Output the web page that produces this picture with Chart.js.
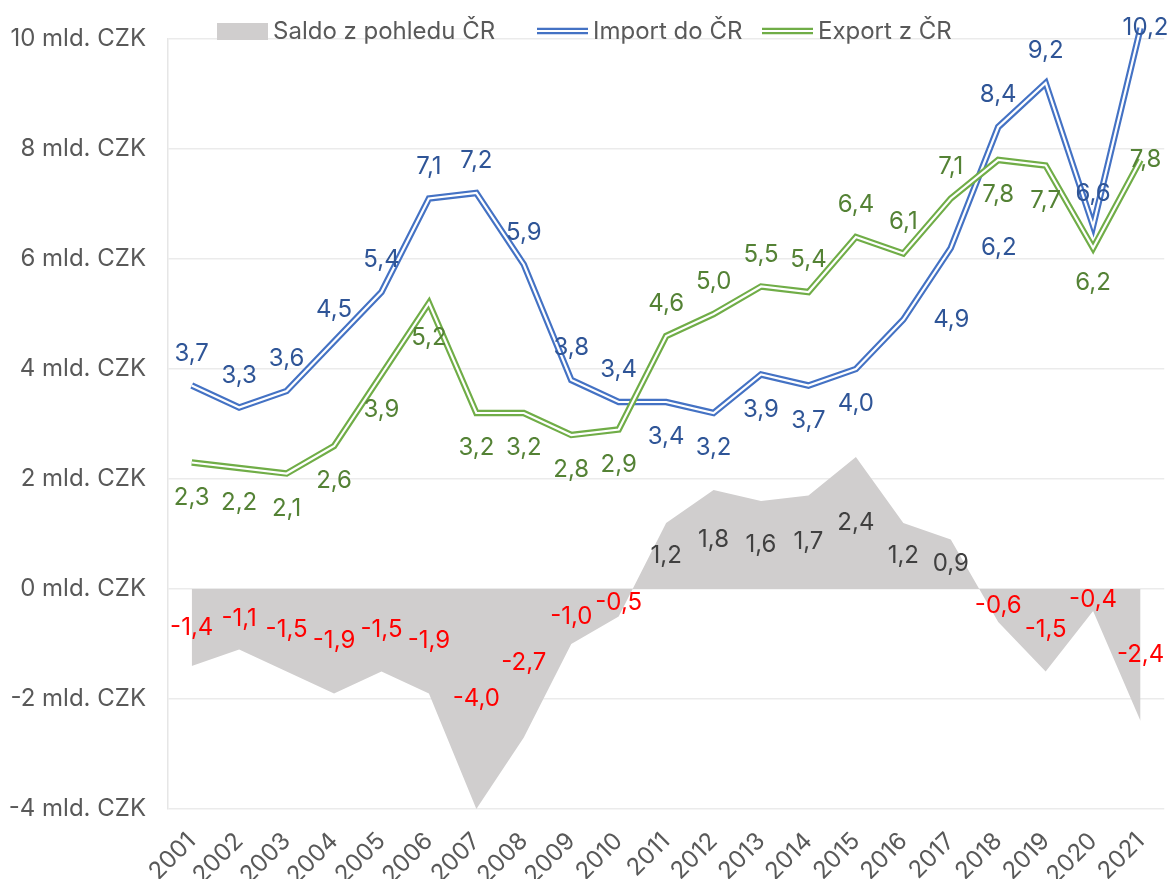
<!DOCTYPE html>
<html>
<head>
<meta charset="utf-8">
<script src="https://cdn.jsdelivr.net/npm/chart.js@4.4.1/dist/chart.umd.min.js"></script>
<style>
  html, body { margin: 0; padding: 0; background: #fff; }
  #wrap { width: 1171px; height: 879px; }
</style>
</head>
<body>
<div id="wrap"><canvas id="tradeChart" width="1171" height="879"></canvas></div>
<script>
const years = ['2001', '2002', '2003', '2004', '2005', '2006', '2007', '2008', '2009', '2010',
  '2011', '2012', '2013', '2014', '2015', '2016', '2017', '2018', '2019', '2020', '2021'];
const saldo = [-1.4, -1.1, -1.5, -1.9, -1.5, -1.9, -4.0, -2.7, -1.0, -0.5,
  1.2, 1.8, 1.6, 1.7, 2.4, 1.2, 0.9, -0.6, -1.5, -0.4, -2.4];
const importCR = [3.7, 3.3, 3.6, 4.5, 5.4, 7.1, 7.2, 5.9, 3.8, 3.4,
  3.4, 3.2, 3.9, 3.7, 4.0, 4.9, 6.2, 8.4, 9.2, 6.6, 10.2];
const exportCR = [2.3, 2.2, 2.1, 2.6, 3.9, 5.2, 3.2, 3.2, 2.8, 2.9,
  4.6, 5.0, 5.5, 5.4, 6.4, 6.1, 7.1, 7.8, 7.7, 6.2, 7.8];
const yTicks = [-4, -2, 0, 2, 4, 6, 8, 10];

// where each value label sits relative to its point
const importLabelPos = ['a', 'a', 'a', 'a', 'a', 'a', 'a', 'a', 'a', 'a',
  'b', 'b', 'b', 'b', 'b', 'r', 'r', 'a', 'a', 'a', 'c'];
const exportLabelPos = ['b', 'b', 'b', 'b', 'b', 'b', 'b', 'b', 'b', 'b',
  'a', 'a', 'a', 'a', 'a', 'a', 'a', 'b', 'b', 'b', 'c'];

const FONT = 'Inter, "DejaVu Sans", sans-serif';
const FS = 24;
const TEXT = '#595959';
const BLUE = '#4472c4';
const GREEN = '#70ad47';
const GREY = '#d0cece';

function fmt(v) {
    return v.toFixed(1).replace('.', ',');
}

const valueLabels = {
    id: 'valueLabels',
    afterDatasetsDraw(chart) {
        const ctx = chart.ctx;
        const yScale = chart.scales.y;
        ctx.save();
        ctx.font = FS + 'px ' + FONT;
        ctx.textAlign = 'center';
        ctx.textBaseline = 'middle';
        chart.data.datasets.forEach(function (ds, i) {
            if (!ds.labelMode) return;
            const meta = chart.getDatasetMeta(i);
            meta.data.forEach(function (pt, j) {
                const v = ds.data[j];
                let x = pt.x, y = pt.y;
                if (ds.labelMode === 'half') {
                    y = yScale.getPixelForValue(v / 2);
                    ctx.fillStyle = v < 0 ? '#ff0000' : '#404040';
                } else {
                    const p = ds.labelPos[j];
                    if (p === 'a') y -= 32;
                    else if (p === 'b') y += 35;
                    else if (p === 'r') x += 48;
                    else if (p === 'c') x += 5;
                    ctx.fillStyle = ds.labelColor;
                }
                ctx.fillText(fmt(v), x, y);
            });
        });
        ctx.restore();
    }
};

const customLegend = {
    id: 'customLegend',
    afterDraw(chart) {
        const ctx = chart.ctx;
        const items = [
            { text: 'Saldo z pohledu ČR', kind: 'box', color: GREY, x: 217 },
            { text: 'Import do ČR', kind: 'line', color: BLUE, x: 537 },
            { text: 'Export z ČR', kind: 'line', color: GREEN, x: 762 }
        ];
        const cy = 31;
        ctx.save();
        ctx.font = FS + 'px ' + FONT;
        ctx.textBaseline = 'middle';
        ctx.textAlign = 'left';
        items.forEach(function (it) {
            if (it.kind === 'box') {
                ctx.fillStyle = it.color;
                ctx.fillRect(it.x, cy - 8, 51, 17);
            } else {
                ctx.strokeStyle = it.color;
                ctx.lineWidth = 6.5;
                ctx.beginPath();
                ctx.moveTo(it.x, cy);
                ctx.lineTo(it.x + 51, cy);
                ctx.stroke();
                ctx.strokeStyle = '#fff';
                ctx.lineWidth = 2.2;
                ctx.beginPath();
                ctx.moveTo(it.x, cy);
                ctx.lineTo(it.x + 51, cy);
                ctx.stroke();
            }
            ctx.fillStyle = TEXT;
            ctx.fillText(it.text, it.x + 56, cy + 1);
        });
        ctx.restore();
    }
};

function lineSet(data, color, width, order) {
    return {
        type: 'line',
        data: data,
        borderColor: color,
        borderWidth: width,
        borderJoinStyle: 'miter',
        pointRadius: 0,
        fill: false,
        tension: 0,
        clip: false,
        order: order
    };
}

const exportOuter = lineSet(exportCR, GREEN, 6.5, 2);
const exportInner = lineSet(exportCR, '#ffffff', 2.2, 1);
exportInner.labelMode = 'pos';
exportInner.labelPos = exportLabelPos;
exportInner.labelColor = '#548235';

const importOuter = lineSet(importCR, BLUE, 6.5, 4);
const importInner = lineSet(importCR, '#ffffff', 2.2, 3);
importInner.labelMode = 'pos';
importInner.labelPos = importLabelPos;
importInner.labelColor = '#2f5597';

const saldoSet = {
    type: 'line',
    label: 'Saldo z pohledu ČR',
    data: saldo,
    borderWidth: 0,
    backgroundColor: GREY,
    fill: 'origin',
    pointRadius: 0,
    tension: 0,
    order: 10,
    labelMode: 'half'
};

const ctx = document.getElementById('tradeChart').getContext('2d');
new Chart(ctx, {
    type: 'line',
    data: {
        labels: years,
        datasets: [saldoSet, importOuter, importInner, exportOuter, exportInner]
    },
    options: {
        responsive: false,
        animation: false,
        layout: { padding: { top: 39, right: 4, bottom: 0, left: 0 } },
        plugins: {
            legend: { display: false },
            tooltip: { enabled: false }
        },
        scales: {
            x: {
                type: 'category',
                offset: true,
                grid: { display: false },
                border: { display: false },
                ticks: {
                    color: TEXT,
                    font: { family: FONT, size: FS },
                    maxRotation: 45,
                    minRotation: 45,
                    autoSkip: false,
                    padding: 10
                },
                afterFit: function (scale) { scale.height = 70; }
            },
            y: {
                min: -4,
                max: 10,
                afterBuildTicks: function (scale) {
                    scale.ticks = yTicks.map(function (v) { return { value: v }; });
                },
                grid: { color: '#ebebeb', lineWidth: 1.5, drawTicks: false },
                border: { display: true, color: '#e6e6e6', width: 1.5 },
                ticks: {
                    color: TEXT,
                    font: { family: FONT, size: FS },
                    padding: 22,
                    callback: function (v) { return v + ' mld. CZK'; }
                },
                afterFit: function (scale) { scale.width = 168; }
            }
        }
    },
    plugins: [valueLabels, customLegend]
});
</script>
</body>
</html>
